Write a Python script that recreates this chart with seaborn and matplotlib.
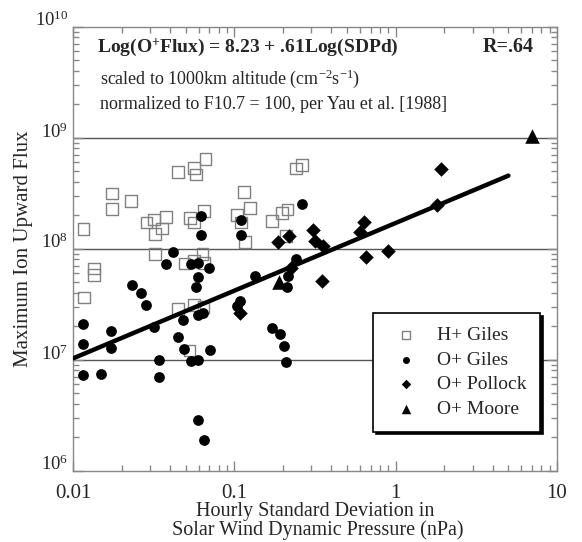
import numpy as np
import matplotlib
matplotlib.use("Agg")
import matplotlib.pyplot as plt
import seaborn as sns
from matplotlib.ticker import FixedLocator, LogLocator, NullFormatter

# H+ Giles (open squares)
hp_x = [0.0116, 0.0174, 0.0174, 0.0228, 0.0446, 0.0564, 0.058, 0.0664, 0.0286, 0.0319,
        0.0357, 0.0321, 0.0377, 0.0531, 0.0564, 0.0646, 0.1035, 0.0321, 0.0634, 0.0491,
        0.056, 0.0646, 0.0135, 0.0135, 0.115, 0.125, 0.110, 0.116, 0.171, 0.198,
        0.214, 0.2415, 0.2616, 0.2088, 0.0117, 0.0447, 0.056, 0.0643, 0.0527]
hp_y = [1.50e8, 3.13e8, 2.27e8, 2.68e8, 4.86e8, 5.31e8, 4.64e8, 6.40e8, 1.71e8, 1.83e8,
        1.52e8, 1.35e8, 1.93e8, 1.88e8, 1.71e8, 2.19e8, 2.00e8, 8.87e7, 8.96e7, 7.32e7,
        7.80e7, 7.40e7, 6.61e7, 5.77e7, 3.21e8, 2.32e8, 1.71e8, 1.14e8, 1.78e8, 2.10e8,
        2.25e8, 5.26e8, 5.63e8, 1.30e8, 3.63e7, 2.86e7, 3.08e7, 2.99e7, 1.21e7]

# O+ Giles (filled circles)
og_x = [0.0624, 0.0621, 0.1096, 0.1096, 0.2616, 0.0417, 0.0377, 0.0541, 0.0593, 0.0698,
        0.0592, 0.0233, 0.0575, 0.1345, 0.240, 0.216, 0.211, 0.1088, 0.1033, 0.170,
        0.193, 0.202, 0.210, 0.0264, 0.0284, 0.0116, 0.0116, 0.0173, 0.0173, 0.0316,
        0.0446, 0.048, 0.0487, 0.0595, 0.0639, 0.0709, 0.034, 0.0537, 0.0595, 0.0116,
        0.0150, 0.034, 0.0592, 0.0645]
og_y = [1.97e8, 1.32e8, 1.81e8, 1.32e8, 2.52e8, 9.30e7, 7.18e7, 7.18e7, 7.36e7, 6.68e7,
        5.56e7, 4.71e7, 4.53e7, 5.65e7, 8.00e7, 5.62e7, 4.53e7, 3.38e7, 3.05e7, 1.94e7,
        1.69e7, 1.32e7, 9.40e6, 3.95e7, 3.08e7, 2.10e7, 1.39e7, 1.79e7, 1.28e7, 1.95e7,
        1.60e7, 2.26e7, 1.25e7, 2.52e7, 2.61e7, 1.22e7, 9.96e6, 9.66e6, 9.96e6, 7.25e6,
        7.45e6, 6.92e6, 2.87e6, 1.88e6]

# O+ Pollock (diamonds)
pol_x = [0.187, 0.2185, 0.308, 0.316, 0.356, 0.635, 0.600, 0.654, 0.901, 0.349,
         1.905, 1.80, 0.1083, 0.224]
pol_y = [1.15e8, 1.30e8, 1.47e8, 1.17e8, 1.05e8, 1.75e8, 1.42e8, 8.35e7, 9.55e7, 5.10e7,
         5.20e8, 2.47e8, 2.64e7, 6.72e7]

# O+ Moore (triangles)
moore_x = [6.95, 0.189]
moore_y = [1.04e9, 5.04e7]

# regression: Log(flux) = 8.23 + .61 Log(SDPd)
fit_a, fit_b = 8.23, 0.61
fit_x = np.array([0.01, 5.0])
fit_y = 10 ** (fit_a + fit_b * np.log10(fit_x))

sns.set_style("ticks")
plt.rcParams["font.family"] = ["Liberation Serif", "DejaVu Serif"]
plt.rcParams["mathtext.fontset"] = "custom"
plt.rcParams["mathtext.rm"] = "Liberation Serif"
plt.rcParams["mathtext.bf"] = "Liberation Serif:bold"
plt.rcParams["mathtext.it"] = "Liberation Serif:italic"
plt.rcParams["ytick.alignment"] = "baseline"

fig = plt.figure(figsize=(5.82, 5.42), dpi=100)
ax = fig.add_axes([73 / 582, 1 - 470.5 / 542, 484 / 582, 444 / 542])
ax.set_xscale("log")
ax.set_yscale("log")

for v in [1e7, 1e8, 1e9]:
    ax.axhline(v, color="#555555", lw=1, zorder=0)

sns.scatterplot(x=hp_x, y=hp_y, ax=ax, marker="s", s=70, facecolors="none",
                edgecolors="#808080", linewidth=1, label="H+ Giles", zorder=2)
sns.lineplot(x=fit_x, y=fit_y, ax=ax, color="black", lw=3.2, zorder=3)
sns.scatterplot(x=og_x, y=og_y, ax=ax, marker="o", s=60, color="black",
                edgecolor="black", linewidth=0, label="O+ Giles", zorder=4)
sns.scatterplot(x=pol_x, y=pol_y, ax=ax, marker="D", s=55, color="black",
                edgecolor="black", linewidth=0, label="O+ Pollock", zorder=4)
sns.scatterplot(x=moore_x, y=moore_y, ax=ax, marker="^", s=110, color="black",
                edgecolor="black", linewidth=0, label="O+ Moore", zorder=4)

ax.set_xlim(0.01, 10)
ax.set_ylim(1e6, 1e10)
ax.xaxis.set_major_locator(FixedLocator([0.01, 0.1, 1, 10]))
ax.set_xticklabels(["0.01", "0.1", "1", "10"], fontsize=15)
ax.xaxis.set_minor_locator(LogLocator(base=10, subs=np.arange(2, 10)))
ax.xaxis.set_minor_formatter(NullFormatter())
ax.yaxis.set_minor_locator(LogLocator(base=10, subs=np.arange(2, 10), numticks=20))
ax.yaxis.set_minor_formatter(NullFormatter())
ax.tick_params(axis="y", labelsize=13.5)
ax.tick_params(axis="x", pad=10)
ax.tick_params(which="both", direction="in", top=True, right=True, color="#888888")
ax.tick_params(which="major", length=7, width=1)
ax.tick_params(which="minor", length=4, width=1)
for sp in ax.spines.values():
    sp.set_color("#888888")
    sp.set_linewidth(1)

ax.set_xlabel("Hourly Standard Deviation in\n Solar Wind Dynamic Pressure (nPa)",
              fontsize=14.5, linespacing=0.92, labelpad=-1)
ax.set_ylabel("Maximum Ion Upward Flux", fontsize=15, labelpad=1)

ax.text(0.05, 0.954, r"Log(O$^{\mathbf{+}}$Flux) = 8.23 + .61Log(SDPd)",
        transform=ax.transAxes, fontsize=14, weight="bold", va="center")
ax.text(0.952, 0.954, "R=.64", transform=ax.transAxes, fontsize=14.5,
        weight="bold", va="center", ha="right")
ax.text(0.056, 0.882, r"scaled to 1000km altitude (cm$^{\mathrm{-2}}$s$^{\mathrm{-1}}$)",
        transform=ax.transAxes, fontsize=13, va="center")
ax.text(0.056, 0.825, "normalized to F10.7 = 100, per Yau et al. [1988]",
        transform=ax.transAxes, fontsize=13, va="center")

leg = ax.legend(loc="upper left", bbox_to_anchor=(0.62, 0.355), borderaxespad=0,
                fontsize=14, frameon=True, fancybox=False, edgecolor="black",
                shadow={"color": "black", "alpha": 1},
                borderpad=0.7, labelspacing=0.36, handletextpad=0.6,
                handlelength=2.0, markerscale=0.65)
leg.get_frame().set_linewidth(1.2)
leg.get_frame().set_alpha(1)

fig.savefig("out.png", dpi=100)
